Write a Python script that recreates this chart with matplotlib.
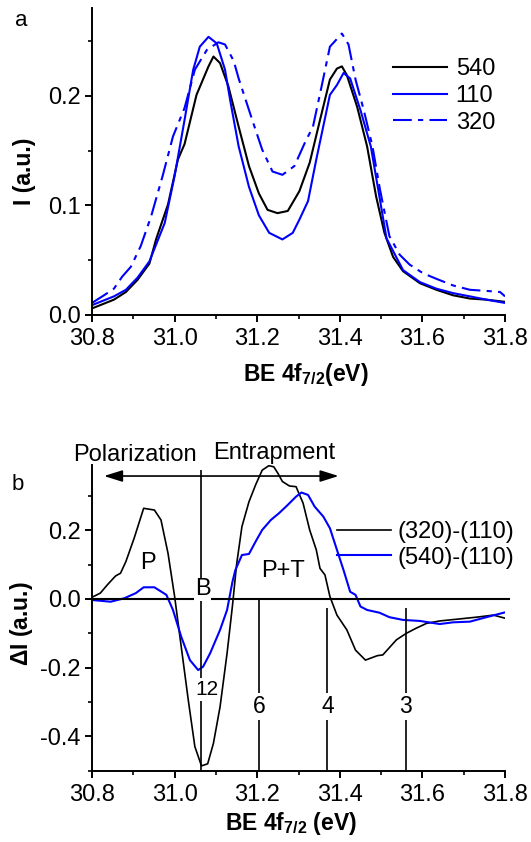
import matplotlib
matplotlib.use("Agg")
import matplotlib.pyplot as plt
from matplotlib.ticker import MultipleLocator, FormatStrFormatter

plt.rcParams['font.family'] = ['Liberation Sans', 'DejaVu Sans']
plt.rcParams['mathtext.fontset'] = 'custom'
plt.rcParams['mathtext.rm'] = 'Liberation Sans'
plt.rcParams['mathtext.bf'] = 'Liberation Sans:bold'
plt.rcParams['axes.unicode_minus'] = False

# Panel a: 4f7/2 spectra for the three facets
be_540 = [30.800, 30.853, 30.882, 30.910, 30.939, 30.955, 30.984, 31.008, 31.024, 31.053,
          31.082, 31.094, 31.110, 31.130, 31.155, 31.180, 31.204, 31.225, 31.249, 31.274,
          31.302, 31.327, 31.352, 31.376, 31.393, 31.405, 31.417, 31.442, 31.466, 31.488,
          31.508, 31.529, 31.553, 31.594, 31.634, 31.674, 31.715, 31.755, 31.800]
i_540 = [0.006, 0.014, 0.021, 0.032, 0.047, 0.069, 0.101, 0.142, 0.156, 0.201,
         0.227, 0.236, 0.230, 0.209, 0.172, 0.136, 0.111, 0.096, 0.093, 0.095,
         0.113, 0.139, 0.178, 0.215, 0.225, 0.227, 0.219, 0.190, 0.154, 0.108,
         0.075, 0.053, 0.040, 0.029, 0.023, 0.018, 0.015, 0.014, 0.012]

be_110 = [30.800, 30.853, 30.882, 30.910, 30.939, 30.976, 31.000, 31.024, 31.045, 31.061,
          31.082, 31.102, 31.122, 31.135, 31.155, 31.180, 31.204, 31.229, 31.261, 31.286,
          31.302, 31.323, 31.343, 31.376, 31.393, 31.409, 31.425, 31.450, 31.475, 31.495,
          31.513, 31.553, 31.594, 31.634, 31.674, 31.715, 31.755, 31.800]
i_110 = [0.009, 0.017, 0.023, 0.034, 0.049, 0.084, 0.127, 0.178, 0.224, 0.245,
         0.254, 0.248, 0.224, 0.195, 0.154, 0.117, 0.091, 0.075, 0.069, 0.075,
         0.087, 0.104, 0.142, 0.201, 0.210, 0.221, 0.216, 0.187, 0.154, 0.110,
         0.070, 0.041, 0.030, 0.024, 0.020, 0.017, 0.014, 0.011]

be_320 = [30.800, 30.829, 30.853, 30.873, 30.894, 30.918, 30.943, 30.971, 30.996, 31.024,
          31.049, 31.078, 31.106, 31.122, 31.143, 31.155, 31.188, 31.212, 31.237, 31.261,
          31.290, 31.315, 31.335, 31.356, 31.376, 31.405, 31.421, 31.438, 31.458, 31.479,
          31.497, 31.520, 31.545, 31.569, 31.602, 31.634, 31.674, 31.715, 31.755, 31.788,
          31.800]
i_320 = [0.011, 0.018, 0.024, 0.035, 0.044, 0.063, 0.090, 0.127, 0.163, 0.189,
         0.224, 0.242, 0.249, 0.247, 0.232, 0.216, 0.178, 0.151, 0.131, 0.128,
         0.136, 0.157, 0.172, 0.209, 0.245, 0.257, 0.247, 0.215, 0.187, 0.154,
         0.115, 0.072, 0.055, 0.046, 0.038, 0.033, 0.027, 0.023, 0.022, 0.021,
         0.017]

# Panel b: difference spectra relative to (110)
be_d320 = [30.800, 30.820, 30.837, 30.857, 30.869, 30.882, 30.902, 30.925, 30.951, 30.967,
           30.984, 31.000, 31.016, 31.033, 31.049, 31.065, 31.080, 31.094, 31.110, 31.127,
           31.140, 31.150, 31.163, 31.180, 31.196, 31.212, 31.228, 31.240, 31.250, 31.261,
           31.278, 31.294, 31.311, 31.327, 31.343, 31.352, 31.364, 31.376, 31.393, 31.417,
           31.438, 31.462, 31.491, 31.504, 31.537, 31.561, 31.585, 31.610, 31.642, 31.683,
           31.731, 31.772, 31.800]
di_d320 = [0.005, 0.017, 0.041, 0.067, 0.075, 0.109, 0.177, 0.264, 0.259, 0.230,
           0.133, 0.007, -0.139, -0.294, -0.430, -0.486, -0.480, -0.420, -0.314, -0.158,
           -0.020, 0.100, 0.211, 0.283, 0.332, 0.375, 0.388, 0.385, 0.366, 0.342,
           0.329, 0.327, 0.279, 0.201, 0.143, 0.089, 0.070, 0.007, -0.047, -0.090,
           -0.149, -0.178, -0.165, -0.163, -0.119, -0.100, -0.085, -0.071, -0.064, -0.059,
           -0.053, -0.047, -0.056]

be_d540 = [30.800, 30.845, 30.878, 30.906, 30.925, 30.951, 30.980, 30.996, 31.016, 31.037,
           31.057, 31.069, 31.086, 31.110, 31.127, 31.140, 31.147, 31.163, 31.180, 31.196,
           31.212, 31.233, 31.253, 31.274, 31.294, 31.307, 31.323, 31.339, 31.360, 31.376,
           31.393, 31.409, 31.425, 31.438, 31.450, 31.466, 31.496, 31.520, 31.553, 31.594,
           31.642, 31.674, 31.715, 31.755, 31.800]
di_d540 = [-0.003, -0.008, 0.002, 0.017, 0.034, 0.034, 0.012, -0.032, -0.110, -0.178,
           -0.207, -0.197, -0.158, -0.090, -0.032, 0.050, 0.084, 0.128, 0.131, 0.167,
           0.201, 0.230, 0.250, 0.274, 0.298, 0.310, 0.303, 0.269, 0.240, 0.206,
           0.143, 0.084, 0.021, 0.012, -0.022, -0.032, -0.040, -0.053, -0.061, -0.064,
           -0.073, -0.068, -0.066, -0.053, -0.039]

# coordination markers (binding energy, label, top of line)
marker_be = [31.065, 31.204, 31.370, 31.560]
marker_labels = ['12', '6', '4', '3']
marker_top = [0.376, 0.0, -0.027, -0.027]

BLUE = '#0000ff'
FS = 17


def style_axes(ax):
    for side in ['top', 'right']:
        ax.spines[side].set_visible(False)
    for side in ['left', 'bottom']:
        ax.spines[side].set_linewidth(1.4)
    ax.tick_params(which='major', direction='out', length=5, width=1.4,
                   labelsize=FS, pad=3)
    ax.tick_params(axis='x', which='major', pad=4.5)
    ax.tick_params(which='minor', direction='out', length=3, width=1.2)
    ax.set_xlim(30.8, 31.8)
    ax.xaxis.set_major_locator(MultipleLocator(0.2))
    ax.xaxis.set_minor_locator(MultipleLocator(0.1))
    ax.xaxis.set_major_formatter(FormatStrFormatter('%.1f'))
    ax.yaxis.set_major_formatter(FormatStrFormatter('%.1f'))


fig = plt.figure(figsize=(5.31, 8.42), dpi=100)
ax_a = fig.add_axes([0.1733, 0.6259, 0.7778, 0.3642])
ax_b = fig.add_axes([0.1733, 0.0847, 0.7778, 0.3630])

# ---- panel a
style_axes(ax_a)
ax_a.plot(be_540, i_540, color='k', lw=1.5, label='540')
ax_a.plot(be_110, i_110, color=BLUE, lw=1.5, label='110')
ax_a.plot(be_320, i_320, color=BLUE, lw=1.5, dashes=(9, 3, 2.5, 3), label='320')
ax_a.set_ylim(0, 0.28)
ax_a.yaxis.set_major_locator(MultipleLocator(0.1))
ax_a.yaxis.set_minor_locator(MultipleLocator(0.05))
ax_a.set_ylabel('I (a.u.)', fontsize=16.5, fontweight='bold')
ax_a.yaxis.set_label_coords(-0.135, 0.47)
ax_a.set_xlabel(r'BE 4f$_{\mathbf{7/2}}$(eV)', fontsize=16.5, fontweight='bold')
ax_a.xaxis.set_label_coords(0.517, -0.15)
ax_a.legend(loc='center left', bbox_to_anchor=(0.729, 0.714), frameon=False,
            fontsize=FS, handlelength=2.3, handletextpad=0.35, labelspacing=0.2,
            borderpad=0, borderaxespad=0)
fig.text(0.028, 0.9697, 'a', fontsize=16)

# ---- panel b
style_axes(ax_b)
ax_b.set_ylim(-0.5, 0.39)
ax_b.yaxis.set_major_locator(MultipleLocator(0.2))
ax_b.yaxis.set_minor_locator(MultipleLocator(0.1))
ax_b.plot(be_d320, di_d320, color='k', lw=1.2, label='(320)-(110)')
ax_b.plot(be_d540, di_d540, color=BLUE, lw=1.5, label='(540)-(110)')
ax_b.hlines(0, 30.8, 31.813, color='k', lw=1.5, clip_on=False)
ax_b.vlines(marker_be, -0.5, marker_top, color='k', lw=1.2)

box = dict(facecolor='white', edgecolor='none')
ax_b.text(31.078, -0.263, marker_labels[0], fontsize=15, ha='center', va='center',
          bbox=dict(box, pad=1.5))
for be, lab in zip(marker_be[1:], marker_labels[1:]):
    ax_b.text(be, -0.314, lab, fontsize=16.5, ha='center', va='center',
              bbox=dict(box, pad=1.5))
ax_b.text(31.068, 0.028, 'B', fontsize=17, ha='center', va='center',
          bbox=dict(box, pad=0.5))
ax_b.text(30.936, 0.104, 'P', fontsize=17, ha='center', va='center')
ax_b.text(31.263, 0.080, 'P+T', fontsize=17, ha='center', va='center')

ax_b.annotate('', xy=(30.829, 0.358), xytext=(31.397, 0.358),
              arrowprops=dict(arrowstyle='<|-|>,head_length=0.7,head_width=0.22',
                              mutation_scale=16, lw=1.2, color='k',
                              shrinkA=0, shrinkB=0))
ax_b.text(30.903, 0.419, 'Polarization', fontsize=FS, ha='center', va='center')
ax_b.text(31.242, 0.424, 'Entrapment', fontsize=FS, ha='center', va='center')

ax_b.set_ylabel(r'$\mathbf{\Delta}$I (a.u.)', fontsize=16.5, fontweight='bold')
ax_b.yaxis.set_label_coords(-0.137, 0.48)
ax_b.set_xlabel(r'BE 4f$_{\mathbf{7/2}}$ (eV)', fontsize=16.5, fontweight='bold')
ax_b.xaxis.set_label_coords(0.483, -0.13)
ax_b.legend(loc='center left', bbox_to_anchor=(0.593, 0.739), frameon=False,
            fontsize=FS, handlelength=2.3, handletextpad=0.28, labelspacing=0.15,
            borderpad=0, borderaxespad=0)
fig.text(0.022, 0.418, 'b', fontsize=16)

fig.savefig('out.png', dpi=100)
